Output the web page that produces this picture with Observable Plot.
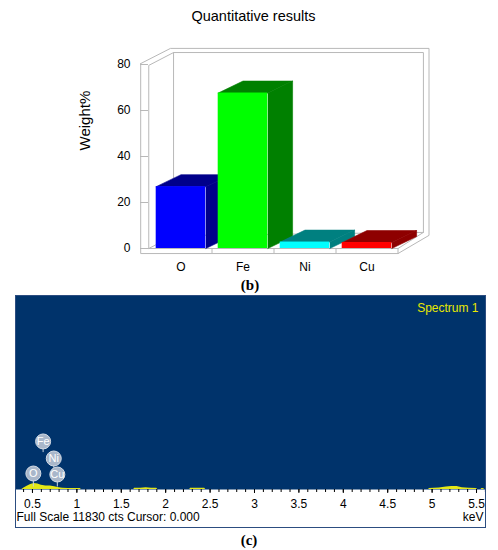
<!DOCTYPE html>
<html><head><meta charset="utf-8">
<script src="https://cdn.jsdelivr.net/npm/d3@7"></script>
<script src="https://cdn.jsdelivr.net/npm/@observablehq/plot@0.6"></script>
<style>
body{margin:0;background:#fff;}
#wrap{position:relative;width:498px;height:550px;overflow:hidden;font-family:"Liberation Sans",Arial,sans-serif;}
#wrap svg{position:absolute;left:0;overflow:visible;}
.lbl{position:absolute;white-space:nowrap;}
</style></head><body><div id="wrap"></div>
<script>
// ---- Panel (b): Quantitative results ----
const elements = ["O", "Fe", "Ni", "Cu"];
const weightPct = [26.9, 67.6, 2.8, 2.6];
const frontColors = ["#0000ff", "#00ff00", "#00ffff", "#ff0000"];
const shadeColors = ["#00008a", "#008000", "#008080", "#8e0000"];
const weightTicks = [0, 20, 40, 60, 80];

// ---- Panel (c): EDS spectrum ----
const energyKeV = [0.31,0.38,0.40,0.44,0.48,0.52,0.56,0.60,0.65,0.70,0.75,0.80,0.84,0.90,1.00,1.04,1.05,
  1.64,1.65,1.72,1.78,1.84,1.90,1.91,2.27,2.28,2.36,2.44,2.45,
  4.96,4.97,5.08,5.16,5.22,5.28,5.34,5.42,5.50,5.51,5.55,5.56,5.58,5.59,5.60];
const counts = [0,0,80,200,300,360,330,260,220,210,170,110,70,60,60,60,0,
  0,70,80,110,80,70,0,0,70,80,70,0,
  0,60,90,150,190,180,100,70,60,0,0,60,60,0,0];
const keVTicks = [0.5,1,1.5,2,2.5,3,3.5,4,4.5,5,5.5];
const keVTickLabels = ["0.5","1","1.5","2","2.5","3","3.5","4","4.5","5","5.5"];
const keVMinorTicks = d3.range(4, 57).map(d => d / 10);
const peakNames = ["O", "Fe", "Ni", "Cu"];
const peakLabelKeV = [0.51, 0.62, 0.74, 0.78];
const peakLabelCts = [975, 2930, 1890, 915];
const peakStemCts = [150, 2250, 1300, 150];
const fullScale = 11830;

const wrap = document.getElementById("wrap");

// ---------- top chart ----------
const barHalf = 0.4, depX = 0.4, depY = 5.2;
const bars = elements.map((e, i) => ({i, e, v: weightPct[i], front: frontColors[i], shade: shadeColors[i]}));
const poly = (id, c, pts) => pts.map(([x, y]) => ({id, c, x, y}));
const sides = bars.flatMap(b => poly(b.e, b.shade, [
  [b.i + barHalf, 0], [b.i + barHalf + depX, depY], [b.i + barHalf + depX, b.v + depY], [b.i + barHalf, b.v]]));
const tops = bars.flatMap(b => poly(b.e, b.shade, [
  [b.i - barHalf, b.v], [b.i - barHalf + depX, b.v + depY], [b.i + barHalf + depX, b.v + depY], [b.i + barHalf, b.v]]));

// 3D box (walls) in data units
const bL = -0.65, bLi = -0.52, bR = 3.5, bBase = -2.2, bTop = 80.4;
const boxLines = [
  ...poly("outer", "", [[bL, bTop], [bL, bBase], [bR, bBase], [bR + 0.5, 5.7], [bR + 0.5, 87], [bL + 0.48, 87], [bL, bTop]]),
  ...poly("inner", "", [[bLi, 0], [bLi, 79.6], [bLi + 0.4, 85.2], [bR + 0.41, 85.2], [bR + 0.41, 7], [bR, 0], [bLi, 0]]),
  ...poly("backL", "", [[bLi + 0.4, 85.2], [bLi + 0.4, 5.6], [bR + 0.41, 7]]),
  ...poly("floorL", "", [[bLi, 0], [bLi + 0.4, 5.6]]),
  ...poly("slabR", "", [[bR, 0], [bR, bBase]])
];

const topChart = Plot.plot({
  width: 498, height: 290,
  marginLeft: 148, marginRight: 139, marginTop: 40, marginBottom: 30,
  style: {fontFamily: "'Liberation Sans', Arial, sans-serif", fontSize: "12px", color: "#000", background: "transparent"},
  x: {type: "linear", domain: [-0.5, 4], range: [149.5, 428.5]},
  y: {type: "linear", domain: [0, 80], range: [248, 64]},
  color: {type: "identity"},
  marks: [
    Plot.line(boxLines, {x: "x", y: "y", z: "id", stroke: "#b8b8b8", strokeWidth: 1}),
    Plot.ruleX([0.5, 1.5, 2.5], {y1: bBase, y2: 0, stroke: "#b8b8b8"}),
    Plot.line(sides, {x: "x", y: "y", z: "id", fill: "c", stroke: "c", strokeWidth: 0.6}),
    Plot.line(tops, {x: "x", y: "y", z: "id", fill: "c", stroke: "c", strokeWidth: 0.6}),
    Plot.rect(bars, {x1: d => d.i - barHalf, x2: d => d.i + barHalf, y1: 0, y2: "v", fill: "front"}),
    Plot.axisY({ticks: weightTicks, tickSize: 8, tickPadding: 10, stroke: "#b8b8b8", fill: "#000", fontSize: 12, label: null}),
    Plot.axisX({ticks: [0, 1, 2, 3], tickFormat: i => elements[i], tickSize: 0, tickPadding: 2, fontSize: 12, label: null}),
    Plot.text(["Weight%"], {frameAnchor: "left", rotate: -90, dx: -63, fontSize: 15, fill: "#000"})
  ]
});
topChart.style.top = "0px";
wrap.appendChild(topChart);

// ---------- bottom chart ----------
const spectrum = energyKeV.map((e, i) => ({e, c: counts[i]}));
const peaks = peakNames.map((n, i) => ({n, e: peakLabelKeV[i], lvl: peakLabelCts[i], stem: peakStemCts[i]}));

const botChart = Plot.plot({
  width: 498, height: 245,
  marginLeft: 15, marginRight: 13, marginTop: 5, marginBottom: 46,
  style: {fontFamily: "'Liberation Sans', Arial, sans-serif", fontSize: "12px", color: "#000", background: "transparent"},
  x: {domain: [0.309, 5.601]},
  y: {domain: [0, fullScale], axis: null},
  marks: [
    Plot.frame({fill: "#00336b", stroke: null}),
    Plot.areaY(spectrum, {x: "e", y: "c", fill: "#e4e816", curve: "linear"}),
    Plot.ruleX(peaks, {x: "e", y1: "stem", y2: "lvl", stroke: "#c8d2de", strokeWidth: 1}),
    Plot.dot(peaks, {x: "e", y: "lvl", r: 7.5, fill: "#a9b7ca", stroke: "#d4dce6", strokeWidth: 1}),
    Plot.text(peaks, {x: "e", y: "lvl", text: "n", fill: "#ffffff", fontSize: 11}),
    Plot.axisX({ticks: keVMinorTicks, tickSize: 3, tickFormat: () => "", stroke: "#000", label: null}),
    Plot.axisX({ticks: keVTicks, tickFormat: (d, i) => keVTickLabels[keVTicks.indexOf(d)], tickSize: 4, tickPadding: 6, fontSize: 12, fill: "#000", stroke: "#000", label: null}),
    Plot.text(["Spectrum 1"], {frameAnchor: "top-right", textAnchor: "end", dx: -7, dy: 8, fill: "#e8e800", fontSize: 12}),
    Plot.text(["Full Scale 11830 cts Cursor: 0.000"], {frameAnchor: "bottom-left", textAnchor: "start", dx: 1, dy: 31, fill: "#000", fontSize: 12}),
    Plot.text(["keV"], {frameAnchor: "bottom-right", textAnchor: "end", dx: -2, dy: 31, fill: "#000", fontSize: 12})
  ]
});
botChart.style.top = "290px";
wrap.appendChild(botChart);

// panel border
const border = document.createElement("div");
border.style.cssText = "position:absolute;left:15px;top:295px;width:471px;height:233px;box-sizing:border-box;border:1px solid #2c4d80;pointer-events:none;";
wrap.appendChild(border);

// titles / captions
function label(text, cx, cy, css) {
  const d = document.createElement("div");
  d.className = "lbl";
  d.textContent = text;
  d.style.cssText += `left:${cx - 150}px;width:300px;text-align:center;top:${cy - 10}px;line-height:20px;` + css;
  wrap.appendChild(d);
}
label("Quantitative results", 253.5, 16, "font-size:14.5px;font-family:'Liberation Sans',Arial,sans-serif;color:#000;");
label("(b)", 250, 285, "font-size:15px;font-weight:bold;font-family:'Liberation Serif','Times New Roman',serif;color:#000;");
label("(c)", 249, 540, "font-size:15px;font-weight:bold;font-family:'Liberation Serif','Times New Roman',serif;color:#000;");
</script></body></html>
